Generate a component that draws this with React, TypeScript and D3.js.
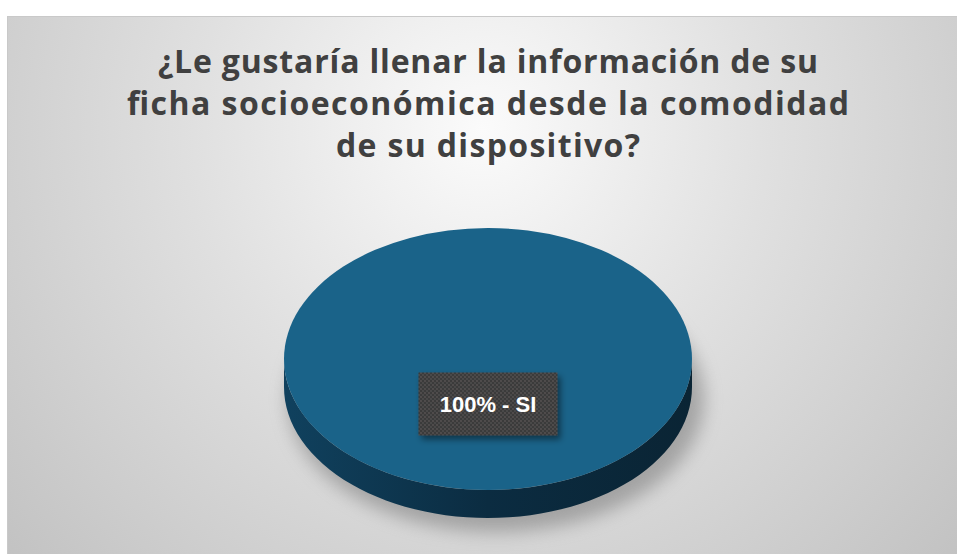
import React, { useEffect, useRef } from "react";
import * as d3 from "d3";

const categories = ["SI"];
const values = [100];
const titleLines = [
  "¿Le gustaría llenar la información de su",
  "ficha socioeconómica desde la comodidad",
  "de su dispositivo?",
];
// measured widths of the title lines in the reference
const titleWidths = [660, 722, 304];

const W = 957;
const H = 554;

const App = () => {
  const svgRef = useRef<SVGSVGElement>(null);

  useEffect(() => {
    const svg = d3.select(svgRef.current);
    svg.selectAll("*").remove();

    const defs = svg.append("defs");

    const bg = defs
      .append("radialGradient")
      .attr("id", "bg")
      .attr("gradientUnits", "userSpaceOnUse")
      .attr("cx", 482)
      .attr("cy", 130)
      .attr("r", 640);
    bg.append("stop").attr("offset", "0%").attr("stop-color", "#fbfbfb");
    bg.append("stop").attr("offset", "45%").attr("stop-color", "#e0e0e0");
    bg.append("stop").attr("offset", "100%").attr("stop-color", "#c2c2c2");

    const side = defs.append("linearGradient").attr("id", "side").attr("x1", 0).attr("x2", 1);
    side.append("stop").attr("offset", "0%").attr("stop-color", "#10415e");
    side.append("stop").attr("offset", "50%").attr("stop-color", "#0b2c41");
    side.append("stop").attr("offset", "100%").attr("stop-color", "#0a2434");

    const blur = defs.append("filter").attr("id", "blur").attr("x", "-20%").attr("y", "-20%").attr("width", "140%").attr("height", "140%");
    blur.append("feGaussianBlur").attr("stdDeviation", 9);

    const boxShadow = defs.append("filter").attr("id", "boxShadow").attr("x", "-20%").attr("y", "-20%").attr("width", "140%").attr("height", "150%");
    boxShadow
      .append("feDropShadow")
      .attr("dx", 3)
      .attr("dy", 4)
      .attr("stdDeviation", 3)
      .attr("flood-color", "#000")
      .attr("flood-opacity", 0.45);

    const pat = defs
      .append("pattern")
      .attr("id", "dots")
      .attr("patternUnits", "userSpaceOnUse")
      .attr("width", 4)
      .attr("height", 4);
    pat.append("rect").attr("width", 4).attr("height", 4).attr("fill", "#3a3a3a");
    pat.append("circle").attr("cx", 1).attr("cy", 1).attr("r", 0.9).attr("fill", "#5a5555");
    pat.append("circle").attr("cx", 3).attr("cy", 3).attr("r", 0.9).attr("fill", "#524f4f");

    // chart area
    svg
      .append("rect")
      .attr("x", 7)
      .attr("y", 16)
      .attr("width", W - 7)
      .attr("height", H - 16)
      .attr("fill", "url(#bg)");
    svg
      .append("line")
      .attr("x1", 7)
      .attr("x2", W)
      .attr("y1", 16.5)
      .attr("y2", 16.5)
      .attr("stroke", "#c9c9c9");
    svg
      .append("line")
      .attr("x1", 7.5)
      .attr("x2", 7.5)
      .attr("y1", 16)
      .attr("y2", H)
      .attr("stroke", "#c9c9c9");

    // title
    svg
      .append("g")
      .attr("font-family", "'Open Sans', sans-serif")
      .attr("font-weight", 700)
      .attr("font-size", 32)
      .attr("fill", "#404040")
      .selectAll("text")
      .data(titleLines)
      .join("text")
      .attr("text-anchor", "middle")
      .attr("x", 488)
      .attr("y", (d, i) => 73 + i * 42)
      .attr("textLength", (d, i) => titleWidths[i])
      .attr("lengthAdjust", "spacing")
      .text((d) => d);

    // 3D pie
    const cx = 488;
    const cy = 359;
    const rx = 204;
    const ry = 131;
    const depth = 28;

    const pieData = d3.pie<number>().sort(null).value((d) => d)(values);
    const arc = d3.arc<d3.PieArcDatum<number>>().innerRadius(0).outerRadius(rx);
    const total = d3.sum(values);
    const pct = d3.format(".0%");

    const g = svg.append("g").attr("transform", `translate(${cx},${cy})`);

    // shadow
    g.append("ellipse")
      .attr("cx", 8)
      .attr("cy", depth + 12)
      .attr("rx", rx + 4)
      .attr("ry", ry + 2)
      .attr("fill", "#777")
      .attr("opacity", 0.55)
      .attr("filter", "url(#blur)");

    const pt = (a: number, dy: number) => [rx * Math.sin(a), -ry * Math.cos(a) + dy];

    // side walls (front half only)
    pieData.forEach((p) => {
      const a0 = Math.max(p.startAngle, Math.PI / 2);
      const a1 = Math.min(p.endAngle, (3 * Math.PI) / 2);
      if (a1 <= a0) return;
      const steps = d3.range(0, 61).map((i) => a0 + ((a1 - a0) * i) / 60);
      const top = steps.map((a) => pt(a, 0));
      const bot = steps.slice().reverse().map((a) => pt(a, depth));
      g.append("path")
        .attr("d", d3.line()([...top, ...bot] as [number, number][]) + "Z")
        .attr("fill", "url(#side)");
    });

    // top face
    g.append("g")
      .attr("transform", `scale(1,${ry / rx})`)
      .selectAll("path")
      .data(pieData)
      .join("path")
      .attr("d", arc)
      .attr("fill", "#1a6389");

    // data label
    pieData.forEach((p, i) => {
      const bw = 139;
      const bh = 63;
      const lg = g.append("g").attr("transform", `translate(0,45)`);
      lg.append("rect")
        .attr("x", -bw / 2)
        .attr("y", -bh / 2)
        .attr("width", bw)
        .attr("height", bh)
        .attr("fill", "url(#dots)")
        .attr("filter", "url(#boxShadow)");
      lg.append("text")
        .attr("text-anchor", "middle")
        .attr("dy", "0.35em")
        .attr("font-family", "'Liberation Sans', Arial, sans-serif")
        .attr("font-weight", 700)
        .attr("font-size", 22)
        .attr("fill", "#ffffff")
        .text(`${pct(p.value / total)} - ${categories[i]}`);
    });
  }, []);

  return (
    <svg
      ref={svgRef}
      width={W}
      height={H}
      style={{ position: "absolute", left: 0, top: 0, display: "block", background: "#fff" }}
    />
  );
};

export default App;
